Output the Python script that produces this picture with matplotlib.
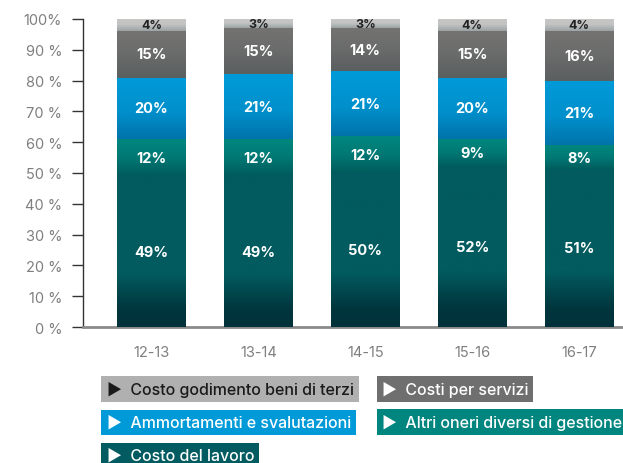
import matplotlib
matplotlib.use("Agg")
import matplotlib.pyplot as plt
from matplotlib.colors import LinearSegmentedColormap
import numpy as np

plt.rcParams['font.family'] = ['Inter', 'DejaVu Sans']

years = ['12-13', '13-14', '14-15', '15-16', '16-17']
costo_lavoro = [49, 49, 50, 52, 51]
altri_oneri = [12, 12, 12, 9, 8]
ammortamenti = [20, 21, 21, 20, 21]
costi_servizi = [15, 15, 14, 15, 16]
godimento_terzi = [4, 3, 3, 4, 4]

series = [costo_lavoro, altri_oneri, ammortamenti, costi_servizi, godimento_terzi]
names = ['Costo del lavoro', 'Altri oneri diversi di gestione', 'Ammortamenti e svalutazioni',
         'Costi per servizi', 'Costo godimento beni di terzi']
# gradient stops, bottom -> top
gradients = [
    [(0.0, '#00313a'), (0.12, '#00363d'), (0.35, '#025b5f'), (1.0, '#025b60')],
    [(0.0, '#005b5c'), (0.5, '#007874'), (1.0, '#00877f')],
    [(0.0, '#0073aa'), (0.45, '#0090cc'), (1.0, '#009ad9')],
    [(0.0, '#5a5f5f'), (0.5, '#6a6b6b'), (1.0, '#747372')],
    [(0.0, '#9aa2a5'), (0.5, '#c2c3c2'), (1.0, '#c8c8c6')],
]
flat_colors = ['#025b60', '#00857f', '#009ad9', '#717171', '#c6c6c4']
label_colors = ['white', 'white', 'white', 'white', '#222222']

fig = plt.figure(figsize=(6.23, 4.64), dpi=100)
ax = fig.add_axes([0.1332, 0.2931, 0.8668, 0.6638])

x = np.arange(len(years))
width = 0.645
bottom = np.zeros(len(years))
grad = np.linspace(0, 1, 256).reshape(-1, 1)
for vals, stops, fc, lc in zip(series, gradients, flat_colors, label_colors):
    bars = ax.bar(x, vals, width, bottom=bottom, color=fc, linewidth=0, zorder=2)
    cmap = LinearSegmentedColormap.from_list('g', stops)
    for b, v in zip(bars, vals):
        bx, by = b.get_x(), b.get_y()
        ax.imshow(grad, cmap=cmap, origin='lower', aspect='auto', zorder=3,
                  extent=[bx, bx + b.get_width(), by, by + b.get_height()])
        small = lc != 'white'
        ax.text(bx + b.get_width() / 2, by + b.get_height() / 2, f'{v}%',
                ha='center', va='center', color=lc, fontweight='bold',
                fontsize=9 if small else 10.5, zorder=4)
    bottom += np.array(vals)

ax.set_xlim(-0.64, 4.41)
ax.set_ylim(0, 100)
ax.set_xticks(x)
ax.set_xticklabels(years)
ax.set_yticks(range(0, 101, 10))
ax.set_yticklabels([f'{v} %' if v < 100 else f'{v}%' for v in range(0, 101, 10)])
ax.tick_params(axis='x', length=0, pad=13, labelsize=10.5, labelcolor='#7f7f7f')
ax.tick_params(axis='y', direction='out', length=8, width=1, color='#333333',
               pad=7, labelsize=10.5, labelcolor='#7f7f7f')
for s in ['top', 'right']:
    ax.spines[s].set_visible(False)
ax.spines['left'].set_color('#333333')
ax.spines['left'].set_linewidth(1)
ax.spines['bottom'].set_color('#8a8a8a')
ax.spines['bottom'].set_linewidth(2)

# legend boxes (x, y from top of figure)
legend_items = [
    (names[4], '#b0b0b0', '#1a1a1a', 0.171, 0.841),
    (names[3], '#6f6f6f', 'white', 0.613, 0.841),
    (names[2], '#009ad9', 'white', 0.171, 0.912),
    (names[1], '#00857f', 'white', 0.613, 0.912),
    (names[0], '#025b60', 'white', 0.171, 0.983),
]
for name, bg, fg, lx, ly in legend_items:
    fig.text(lx, 1 - ly, '\u25b6  ' + name, color=fg, fontsize=11.5,
             fontweight='medium', ha='left', va='center',
             bbox=dict(boxstyle='square,pad=0.32', facecolor=bg, edgecolor='none'))

fig.savefig('out.png', dpi=100)
